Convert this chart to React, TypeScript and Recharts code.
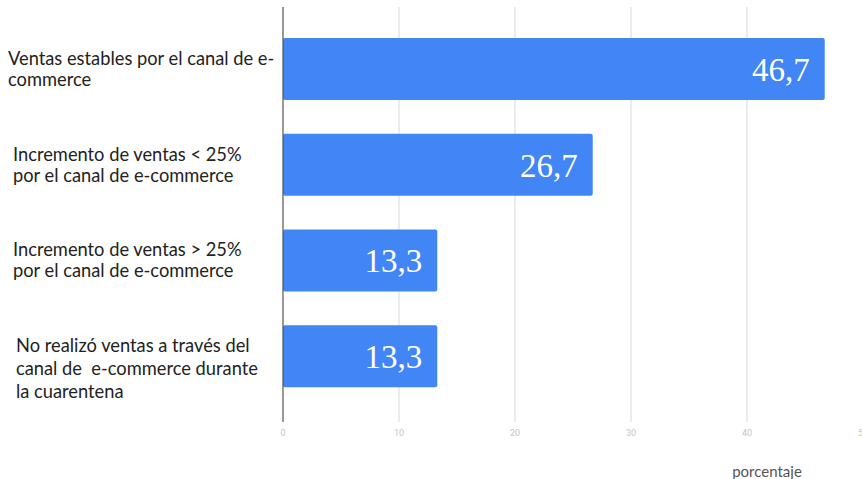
import { BarChart, Bar, XAxis, YAxis, CartesianGrid, LabelList } from "recharts";

const categories: string[][] = [
  ["Ventas estables por el canal de e-", "commerce"],
  ["Incremento de ventas < 25%", "por el canal de e-commerce"],
  ["Incremento de ventas > 25%", "por el canal de e-commerce"],
  ["No realizó ventas a través del", "canal de  e-commerce durante", "la cuarentena"],
];
const values = [46.7, 26.7, 13.3, 13.3];
const xTicks = [0, 10, 20, 30, 40, 50];

// small per-label nudges to match the original layout
const tickLeft = [8, 13, 13, 16];
const tickShift = [0, 0, 0, 12];
const tickLineHeight = [21, 21, 21, 23];

const data = categories.map((lines, i) => ({
  name: String(i),
  lines,
  value: values[i],
}));

function CategoryTick(props: any) {
  const { y, payload } = props;
  const i = Number(payload.value);
  const lines = categories[i];
  const lh = tickLineHeight[i];
  const start = y + tickShift[i] - ((lines.length - 1) * lh) / 2;
  return (
    <text
      x={tickLeft[i]}
      y={start}
      fill="#222"
      fontSize={18.3}
      fontFamily="Lato, sans-serif"
      textAnchor="start"
    >
      {lines.map((l, k) => (
        <tspan key={k} x={tickLeft[i]} y={start + k * lh} dy="0.35em" style={{ whiteSpace: "pre" }}>
          {l}
        </tspan>
      ))}
    </text>
  );
}

function ValueLabel(props: any) {
  const { x, y, width, height, value } = props;
  return (
    <text
      x={x + width - 15}
      y={y + height / 2}
      dy="0.36em"
      fill="#fff"
      fontSize={33}
      fontFamily="'Liberation Serif', serif"
      textAnchor="end"
    >
      {String(value).replace(".", ",")}
    </text>
  );
}

export default function App() {
  return (
    <div style={{ position: "absolute", left: 0, top: 0, background: "#fff" }}>
      <BarChart
        width={862}
        height={479}
        data={data}
        layout="vertical"
        margin={{ top: 7, right: -1, left: 0, bottom: 0 }}
        barCategoryGap={0}
      >
        <CartesianGrid horizontal={false} stroke="#d9d9d9" strokeWidth={1} />
        <XAxis
          type="number"
          domain={[0, 50]}
          ticks={xTicks}
          axisLine={false}
          tickLine={false}
          height={57}
          tick={{ fontSize: 9, fill: "#c4c4c4", fontFamily: "Roboto, sans-serif" }}
          interval={0}
          label={{
            value: "porcentaje",
            position: "insideBottom",
            dx: 194,
            offset: 2,
            fill: "#555",
            fontSize: 15,
            fontFamily: "Lato, sans-serif",
          }}
        />
        <YAxis
          type="category"
          dataKey="name"
          width={283}
          tick={<CategoryTick />}
          tickLine={false}
          axisLine={{ stroke: "#444", strokeWidth: 1 }}
          padding={{ top: 14, bottom: 18 }}
          interval={0}
        />
        <Bar dataKey="value" fill="#4285f4" barSize={62} radius={2} isAnimationActive={false}>
          <LabelList dataKey="value" content={<ValueLabel />} />
        </Bar>
      </BarChart>
    </div>
  );
}
